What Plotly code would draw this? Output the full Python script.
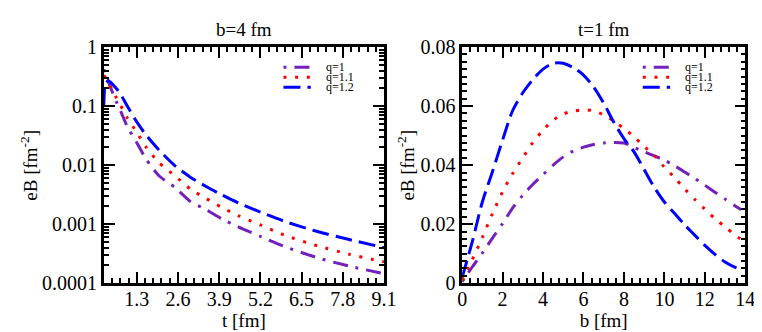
import plotly.graph_objects as go

# ---- left panel: b = 4 fm, eB against time (log axis) ----
t_fm = [0.26, 0.3, 0.4, 0.5, 0.65, 0.8, 1.0, 1.3, 1.6, 2.0, 2.5, 3.0, 3.5,
        4.0, 4.5, 5.2, 6.0, 7.0, 8.0, 9.1]
eB_t_q1 = [0.42, 0.36, 0.26, 0.19, 0.12, 0.08, 0.045, 0.024, 0.0125, 0.0066,
           0.0042, 0.0024, 0.00175, 0.00122, 0.0009, 0.00062, 0.00041,
           0.00027, 0.000195, 0.000145]
eB_t_q11 = [0.33, 0.31, 0.25, 0.2, 0.14, 0.1, 0.063, 0.036, 0.02, 0.011,
            0.0066, 0.0039, 0.0027, 0.0019, 0.0014, 0.00097, 0.00064,
            0.00043, 0.00031, 0.00023]
eB_t_q12 = [0.1, 0.22, 0.27, 0.245, 0.2, 0.155, 0.1, 0.054, 0.032, 0.018,
            0.0098, 0.0062, 0.0043, 0.0031, 0.0023, 0.0016, 0.0011,
            0.00075, 0.00055, 0.0004]

# ---- right panel: t = 1 fm, eB against impact parameter ----
b_fm = [0, 0.5, 1, 1.5, 2, 2.5, 3, 3.5, 4, 4.5, 5, 5.5, 6, 6.5, 7, 7.5, 8,
        8.5, 9, 9.5, 10, 10.5, 11, 11.5, 12, 12.5, 13, 13.5, 13.8]
eB_b_q1 = [0.0005, 0.0055, 0.0102, 0.0153, 0.0202, 0.0255, 0.0298, 0.0335,
           0.0368, 0.04, 0.0428, 0.0448, 0.0461, 0.047, 0.0475, 0.0477,
           0.0475, 0.046, 0.0445, 0.0431, 0.0417, 0.0398, 0.0377, 0.0355,
           0.0332, 0.0308, 0.0285, 0.0262, 0.0249]
eB_b_q11 = [0.001, 0.008, 0.0155, 0.0236, 0.031, 0.0372, 0.0425, 0.0477,
            0.0518, 0.0552, 0.0573, 0.0583, 0.0587, 0.0584, 0.057, 0.0549,
            0.0524, 0.0496, 0.0463, 0.0433, 0.0393, 0.0358, 0.032, 0.0284,
            0.0251, 0.0219, 0.0191, 0.0163, 0.0148]
eB_b_q12 = [0.002, 0.014, 0.0275, 0.0378, 0.0485, 0.0585, 0.0645, 0.069,
            0.0725, 0.0745, 0.0745, 0.073, 0.0705, 0.0665, 0.061, 0.0545,
            0.049, 0.0445, 0.0385, 0.0325, 0.0275, 0.0237, 0.0198, 0.0163,
            0.0128, 0.0098, 0.0072, 0.0054, 0.0047]

labels = ["q=1", "q=1.1", "q=1.2"]
t_ticks = [1.3, 2.6, 3.9, 5.2, 6.5, 7.8, 9.1]
log_ticks = [1, 0.1, 0.01, 0.001, 0.0001]
log_ticktext = ["1", "0.1", "0.01", "0.001", "0.0001"]
log_minor = [m * 10 ** e for e in range(-4, 0) for m in range(2, 10)]

colors = ["rgb(114,33,188)", "rgb(255,0,0)", "rgb(0,0,255)"]
dashes = ["3px,8px,15px,8px", "3px,8.7px", "17px,7px"]

FONT = "Liberation Serif, Times New Roman, serif"
W, H = 762, 332

fig = go.Figure()

for ys, col, dsh, name in zip([eB_t_q1, eB_t_q11, eB_t_q12], colors, dashes, labels):
    fig.add_trace(go.Scatter(
        x=t_fm, y=ys, mode="lines", name=name, showlegend=False,
        line=dict(color=col, width=3, dash=dsh, shape="spline", smoothing=0.6),
        xaxis="x", yaxis="y"
    ))

for ys, col, dsh, name in zip([eB_b_q1, eB_b_q11, eB_b_q12], colors, dashes, labels):
    fig.add_trace(go.Scatter(
        x=b_fm, y=ys, mode="lines", name=name, showlegend=False,
        line=dict(color=col, width=3, dash=dsh, shape="spline", smoothing=0.8),
        xaxis="x2", yaxis="y2"
    ))

axis_common = dict(
    showline=True, linecolor="black", linewidth=2.5, mirror="ticks",
    ticks="inside", ticklen=11, tickwidth=1.5, tickcolor="black",
    showgrid=False, zeroline=False,
    tickfont=dict(family=FONT, size=20, color="black"),
    title_font=dict(family=FONT, size=19, color="black"),
)
minor_common = dict(ticks="inside", ticklen=5, tickwidth=1.5,
                    tickcolor="black", showgrid=False)

ydom = [49 / H, 302 / H]

fig.update_layout(
    width=W, height=H,
    margin=dict(l=0, r=0, t=0, b=0),
    paper_bgcolor="white", plot_bgcolor="white",
    showlegend=False,
    xaxis=dict(axis_common, domain=[93 / W, 380 / W], range=[0.26, 9.1],
               tickmode="array", tickvals=t_ticks, ticklabelstandoff=-4,
               minor=dict(minor_common, dtick=0.26, tick0=0),
               title=dict(text="t [fm]", standoff=2), anchor="y"),
    yaxis=dict(axis_common, domain=ydom, type="log", range=[-4, 0],
               tickmode="array", tickvals=log_ticks, ticktext=log_ticktext,
               minor=dict(minor_common, tickvals=log_minor), anchor="x"),
    xaxis2=dict(axis_common, domain=[460 / W, 750 / W], range=[0, 14],
                dtick=2, tick0=0, ticklabelstandoff=-4,
                minor=dict(minor_common, dtick=0.4, tick0=0),
                title=dict(text="b [fm]", standoff=2), anchor="y2"),
    yaxis2=dict(axis_common, domain=ydom, range=[0, 0.08],
                dtick=0.02, tick0=0,
                minor=dict(minor_common, dtick=0.0025, tick0=0), anchor="x2"),
)

# panel titles
for text, xc in [("b=4 fm", 236.5), ("t=1 fm", 605)]:
    fig.add_annotation(text=text, x=xc / W, y=1 - 11 / H, xref="paper", yref="paper",
                       xanchor="center", yanchor="middle", showarrow=False,
                       font=dict(family=FONT, size=19, color="black"))

# y-axis titles, placed where the original has them
for xc in [17, 403]:
    fig.add_annotation(text="eB [fm<sup>-2</sup>]", textangle=-90,
                       x=xc / W, y=1 - 156.5 / H, xref="paper", yref="paper",
                       xanchor="center", yanchor="middle", showarrow=False,
                       font=dict(family=FONT, size=19, color="black"))

# in-panel legends (drawn by hand so the rows stay tight like the original)
legend_spots = [(277, 305, 320), (645, 673, 687)]
row_y = [51.7, 62.5, 73.0]
for x0, x1, xt in legend_spots:
    for name, col, dsh, ry in zip(labels, colors, dashes, row_y):
        fig.add_shape(type="line", xref="paper", yref="paper",
                      x0=x0 / W, x1=x1 / W, y0=1 - ry / H, y1=1 - ry / H,
                      line=dict(color=col, width=3, dash=dsh))
        fig.add_annotation(text=name, x=xt / W, y=1 - ry / H, xref="paper", yref="paper",
                           xanchor="left", yanchor="middle", showarrow=False,
                           borderpad=0,
                           font=dict(family=FONT, size=12, color="black"))

fig.write_html("out.html")
